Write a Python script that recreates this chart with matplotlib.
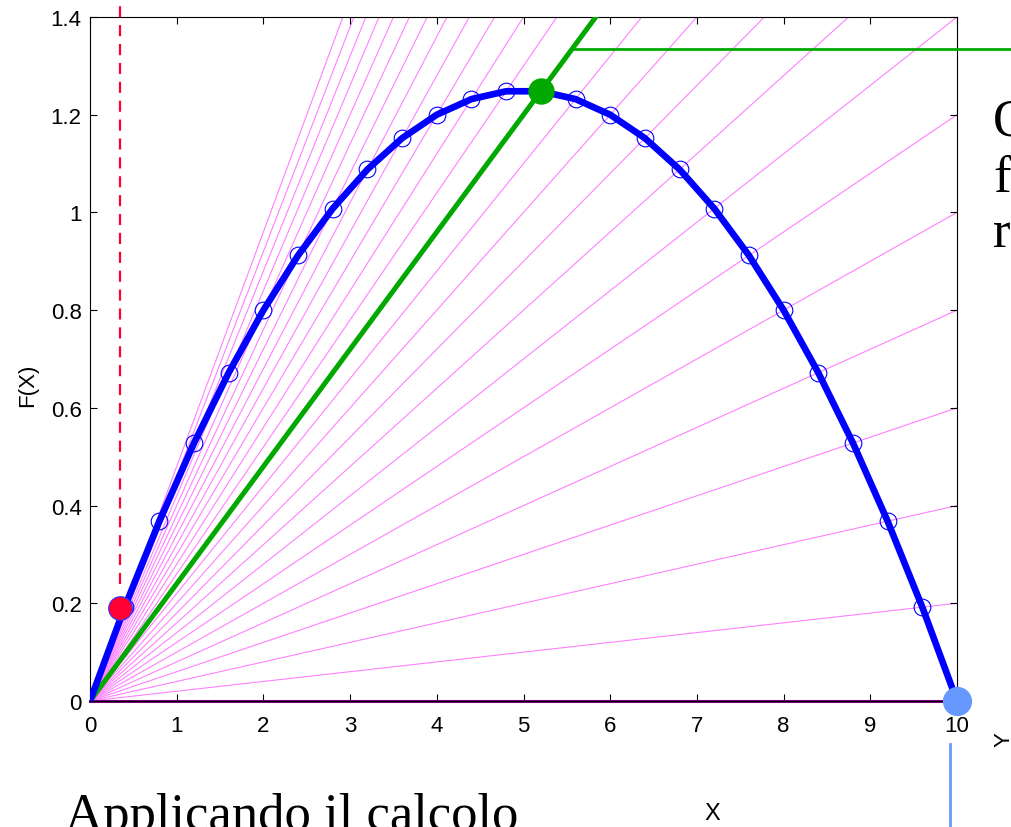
import matplotlib
matplotlib.use("Agg")
import matplotlib.pyplot as plt

# sample points of F(X)
x_pts = [0, 0.4, 0.8, 1.2, 1.6, 2.0, 2.4, 2.8, 3.2, 3.6, 4.0, 4.4, 4.8,
         5.2, 5.6, 6.0, 6.4, 6.8, 7.2, 7.6, 8.0, 8.4, 8.8, 9.2, 9.6, 10]
f_pts = [0, 0.192, 0.368, 0.528, 0.672, 0.800, 0.912, 1.008, 1.088, 1.152,
         1.200, 1.232, 1.248, 1.248, 1.232, 1.200, 1.152, 1.088, 1.008,
         0.912, 0.800, 0.672, 0.528, 0.368, 0.192, 0]

# slopes of the thin magenta rays (one through each circle)
ray_slopes = [0.02, 0.04, 0.06, 0.08, 0.10, 0.12, 0.14, 0.16, 0.18, 0.20,
              0.22, 0.24, 0.26, 0.28, 0.30, 0.32, 0.34, 0.36, 0.38, 0.40,
              0.42, 0.44, 0.46, 0.48]

best_slope = 0.24
best_pt = (5.2, 1.248)
start_pt = (0.35, 0.19)
end_pt = (10, 0)
x_ends = [0, 10]

xticks = [0, 1, 2, 3, 4, 5, 6, 7, 8, 9, 10]
yticks = [0, 0.2, 0.4, 0.6, 0.8, 1.0, 1.2, 1.4]
ytick_labels = ["0", "0.2", "0.4", "0.6", "0.8", "1", "1.2", "1.4"]

W, H = 1011, 828
fig = plt.figure(figsize=(W / 100, H / 100), dpi=100)
ax = fig.add_axes([90 / W, (H - 702) / H, 867 / W, 684 / H])

sans = "Liberation Sans"
serif = "Liberation Serif"

for s in ray_slopes:
    ax.plot(x_ends, [s * x for x in x_ends], color="#ff80ff", lw=0.8, zorder=1)
ax.plot(x_ends, [0, 0], color="#800080", lw=2.2, zorder=2, clip_on=False)

ax.plot(x_ends, [best_slope * x for x in x_ends], color="#00a800", lw=3.6, zorder=3)
ax.plot(x_pts, f_pts, color="#0000ff", lw=4.8, zorder=4)
ax.plot(x_pts[1:-1], f_pts[1:-1], "o", mfc="none", mec="#0000ff", ms=12, mew=0.8, zorder=5)

# helper lines that run out of the axes
ax.plot([start_pt[0], start_pt[0]], [0.24, 1.44], color="#ff0033", lw=1.6,
        dashes=(5, 3.5), clip_on=False, zorder=6)
ax.plot([5.55, 12], [1.335, 1.335], color="#00a800", lw=2, clip_on=False, zorder=3)
ax.plot([9.92, 9.92], [-0.088, -0.3], color="#6699ff", lw=2, clip_on=False, zorder=3)

ax.plot(*best_pt, "o", color="#00a800", ms=18, zorder=7, clip_on=False)
ax.plot(*start_pt, "o", mfc="#ff0033", mec="#3030ff", mew=0.8, ms=17, zorder=7)
ax.plot(*end_pt, "o", color="#6699ff", ms=20, zorder=7, clip_on=False)

ax.set_xlim(0, 10)
ax.set_ylim(0, 1.4)
ax.set_xticks(xticks)
ax.set_xticklabels([str(t) for t in xticks], family=sans, fontsize=16)
ax.set_yticks(yticks)
ax.set_yticklabels(ytick_labels, family=sans, fontsize=16)
ax.tick_params(direction="in", length=5, top=True, right=True, width=0.8)
ax.tick_params(axis="x", pad=10)
ax.tick_params(axis="y", pad=6)
for sp in ax.spines.values():
    sp.set_linewidth(0.8)

fig.text(712 / W, 1 - 814 / H, "X", family=sans, fontsize=17, ha="center", va="center")
fig.text(28 / W, 1 - 385 / H, "F(X)", family=sans, fontsize=16, rotation=90,
         ha="center", va="center")
fig.text(1004 / W, 1 - 740 / H, "Y", family=sans, fontsize=16, rotation=90,
         ha="center", va="center")

fig.text(65 / W, 1 - 830 / H, "Applicando il calcolo", family=serif, fontsize=38,
         ha="left", va="baseline")
for txt, yb in [("Quale", 136), ("fo", 192), ("ra", 248)]:
    fig.text(993 / W, 1 - yb / H, txt, family=serif, fontsize=38,
             ha="left", va="baseline")

fig.savefig("out.png", dpi=100)
